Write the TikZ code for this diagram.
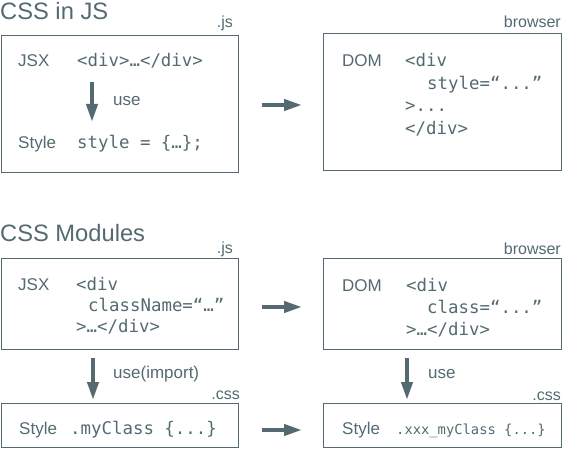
\documentclass[tikz,border=0pt]{standalone}
\usepackage{fontspec}
\setmainfont{Liberation Sans}
\setmonofont{DejaVu Sans Mono}
\usetikzlibrary{arrows.meta}
\definecolor{gr}{RGB}{84,106,112}
\begin{document}
\begin{tikzpicture}[x=1pt,y=-1pt,
  box/.style={draw=gr, line width=1.2pt, anchor=north west, inner sep=0pt},
  lbl/.style={anchor=base west, inner sep=0pt, text=gr, font=\fontsize{17}{20}\selectfont},
  code/.style={anchor=base west, inner sep=0pt, text=gr, font=\fontsize{17.4}{20}\selectfont\ttfamily},
  smallcode/.style={anchor=base west, inner sep=0pt, text=gr, font=\fontsize{13.8}{16}\selectfont\ttfamily},
  ttl/.style={anchor=base west, inner sep=0pt, text=gr, font=\fontsize{23.7}{28}\selectfont},
  tag/.style={anchor=base east, inner sep=0pt, text=gr, font=\fontsize{16}{19}\selectfont},
  bigarrow/.style={draw=gr, line width=4pt, -{Triangle[length=18pt,width=11pt]}}]
\useasboundingbox (0,0) rectangle (562,457);

% ---------- CSS in JS ----------
\node[ttl] (t1) at (0,20) {CSS in JS};
\node[box, minimum width=237pt, minimum height=137pt] (b1) at (1,35) {};
\node[tag] (tag1) at (233,28) {.js};
\node[box, minimum width=238pt, minimum height=137pt] (b2) at (323,33) {};
\node[tag] (tag2) at (561,28) {browser};

\node[lbl] (jsx1) at (18,67) {JSX};
\node[code] (c1) at (77,67) {<div>…</div>};
\node[lbl] (sty1) at (18,149) {Style};
\node[code] (c2) at (77,149) {style = \{…\};};
\coordinate (u1s) at (92,82);
\coordinate (u1e) at (92,122);
\draw[bigarrow] (u1s) -- (u1e);
\node[lbl] (use1) at (113,106) {use};

\node[lbl] (dom1) at (342,67) {DOM};
\node[code] (d1) at (405,67) {<div};
\node[code] (d2) at (427,89.5) {style=“...”};
\node[code] (d3) at (405,112) {>...};
\node[code] (d4) at (405,134.5) {</div>};

\coordinate (h1s) at (262,105);
\coordinate (h1e) at (302,105);
\draw[bigarrow] (h1s) -- (h1e);

% ---------- CSS Modules ----------
\node[ttl] (t2) at (0,241) {CSS Modules};
\node[box, minimum width=237pt, minimum height=91pt] (b3) at (1,258) {};
\node[tag] (tag3) at (233,253) {.js};
\node[box, minimum width=238pt, minimum height=91pt] (b4) at (323,258) {};
\node[tag] (tag4) at (561,254) {browser};

\node[lbl] (jsx2) at (18,290) {JSX};
\node[code] (e1) at (76,290) {<div};
\node[code] (e2) at (88,311) {className=“…”};
\node[code] (e3) at (76,332) {>…</div>};

\node[lbl] (dom2) at (342,291) {DOM};
\node[code] (f1) at (406,291) {<div};
\node[code] (f2) at (427,313) {class=“...”};
\node[code] (f3) at (406,335) {>…</div>};

\coordinate (h2s) at (262,307);
\coordinate (h2e) at (302,307);
\draw[bigarrow] (h2s) -- (h2e);

\coordinate (v1s) at (93,358);
\coordinate (v1e) at (93,400);
\draw[bigarrow] (v1s) -- (v1e);
\node[lbl] (use2) at (113,378) {use(import)};

\coordinate (v2s) at (407,358);
\coordinate (v2e) at (407,400);
\draw[bigarrow] (v2s) -- (v2e);
\node[lbl] (use3) at (428,378) {use};

\node[tag] (tag5) at (240,399) {.css};
\node[tag] (tag6) at (561,400) {.css};
\node[box, minimum width=237pt, minimum height=44pt] (b5) at (1,403) {};
\node[box, minimum width=238pt, minimum height=44pt] (b6) at (323,403) {};

\node[lbl] (sty2) at (19,434) {Style};
\node[code] (g1) at (70,434) {.myClass \{...\}};
\node[lbl] (sty3) at (342,434) {Style};
\node[smallcode] (g2) at (396,434) {.xxx\_myClass \{...\}};

\coordinate (h3s) at (262,430);
\coordinate (h3e) at (302,430);
\draw[bigarrow] (h3s) -- (h3e);
\end{tikzpicture}
\end{document}
